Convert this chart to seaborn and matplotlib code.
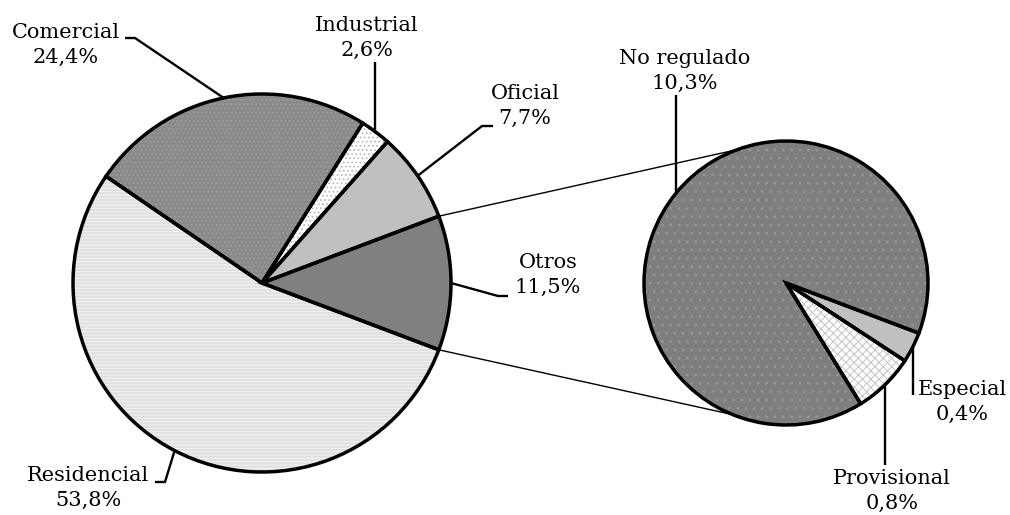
import numpy as np
import matplotlib
matplotlib.use("Agg")
import matplotlib.pyplot as plt
import seaborn as sns

# datos del grafico principal (porcentaje del total)
categorias = ["Otros", "Oficial", "Industrial", "Comercial", "Residencial"]
porcentajes = [11.5, 7.7, 2.6, 24.4, 53.8]

# desglose de "Otros"
sub_categorias = ["Especial", "Provisional", "No regulado"]
sub_porcentajes = [0.4, 0.8, 10.3]

sns.set_theme(style="white")
plt.rcParams['font.family'] = ['DejaVu Serif']
plt.rcParams['hatch.linewidth'] = 0.7

W, H = 1010, 515
fig = plt.figure(figsize=(W / 100, H / 100), dpi=100)
ax = fig.add_axes([0, 0, 1, 1])


def py(y):
    # coordenada vertical de la imagen -> coordenada de datos
    return H - y


c1, r1 = (262, py(283)), 189
c2, r2 = (786, py(283)), 142
inicio = -porcentajes[0] * 3.6 / 2

# relleno, trama, color de trama
estilo1 = [("#808080", None, None), ("#c0c0c0", None, None),
           ("#ffffff", "....", "#b4b4b4"), ("#8a8a8a", "....", "#a0a0a0"),
           ("#e0e0e0", "-----", "#f4f4f4")]
estilo2 = [("#c0c0c0", None, None), ("#ffffff", "xxxx", "#c4c4c4"),
           ("#7f7f7f", "..", "#999999")]


def dibujar_pastel(valores, estilos, centro, radio, antihorario):
    cuñas, _ = ax.pie(valores, colors=[e[0] for e in estilos], startangle=inicio,
                      counterclock=antihorario, center=centro, radius=radio,
                      wedgeprops=dict(linewidth=0))
    for w, (fc, h, hc) in zip(cuñas, estilos):
        if h:
            w.set_hatch(h)
            w.set_edgecolor(hc)
    bordes, _ = ax.pie(valores, startangle=inicio, counterclock=antihorario,
                       center=centro, radius=radio,
                       wedgeprops=dict(fill=False, edgecolor="black", linewidth=2.5))
    return bordes


cuñas1 = dibujar_pastel(porcentajes, estilo1, c1, r1, True)
cuñas2 = dibujar_pastel(sub_porcentajes, estilo2, c2, r2, False)

# lineas que unen "Otros" con el pastel secundario
for a1, a2 in [(-inicio, 110), (inicio, -112)]:
    p1 = (c1[0] + r1 * np.cos(np.radians(a1)), c1[1] + r1 * np.sin(np.radians(a1)))
    p2 = (c2[0] + r2 * np.cos(np.radians(a2)), c2[1] + r2 * np.sin(np.radians(a2)))
    ax.plot([p1[0], p2[0]], [p1[1], p2[1]], color="black", lw=1.0, zorder=0)

# posicion del texto y quiebres de la linea guia (coordenadas de imagen)
pos_etiquetas = {
    "Otros": ((548, 275), [(498, 296), (508, 296)]),
    "Oficial": ((525, 106), [(482, 126), (493, 126)]),
    "Industrial": ((367, 38), [("v", 62)]),
    "Comercial": ((66, 45), [(135, 38), (125, 38)]),
    "Residencial": ((88, 488), [(165, 482), (155, 482)]),
    "No regulado": ((685, 71), [("v", 95)]),
    "Especial": ((962, 402), [("v", 395)]),
    "Provisional": ((892, 491), [("v", 465)]),
}


def etiquetar(cuñas, nombres, valores, centro, radio):
    for w, nombre, v in zip(cuñas, nombres, valores):
        ang = np.radians((w.theta1 + w.theta2) / 2)
        ex = centro[0] + radio * np.cos(ang)
        ey = centro[1] + radio * np.sin(ang)
        (tx, ty), quiebres = pos_etiquetas[nombre]
        xs, ys = [ex], [ey]
        for qx, qy in quiebres:
            xs.append(ex if qx == "v" else qx)
            ys.append(py(qy))
        ax.plot(xs, ys, color="black", lw=1.7, solid_capstyle="butt")
        texto = f"{nombre}\n{v:.1f}%".replace(".", ",")
        ax.text(tx, py(ty), texto, ha="center", va="center", fontsize=15,
                linespacing=1.36, color="black")


etiquetar(cuñas1, categorias, porcentajes, c1, r1)
etiquetar(cuñas2, sub_categorias, sub_porcentajes, c2, r2)

ax.set_xlim(0, W)
ax.set_ylim(0, H)
ax.set_aspect("equal")
ax.axis("off")

fig.savefig("out.png", dpi=100, facecolor="white")
